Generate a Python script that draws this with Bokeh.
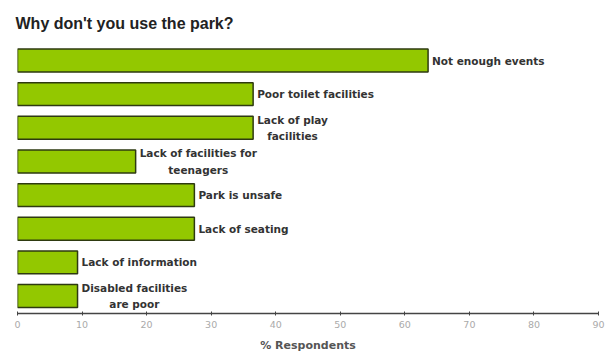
from bokeh.plotting import figure
from bokeh.models import Range1d, ColumnDataSource, FixedTicker
from bokeh.core.properties import value
from bokeh.embed import file_html
from bokeh.resources import INLINE

reasons = [
    "Not enough events",
    "Poor toilet facilities",
    "Lack of play\nfacilities",
    "Lack of facilities for\nteenagers",
    "Park is unsafe",
    "Lack of seating",
    "Lack of information",
    "Disabled facilities\nare poor",
]
percent = [63.6, 36.5, 36.5, 18.3, 27.4, 27.4, 9.3, 9.3]
x_ticks = [0, 10, 20, 30, 40, 50, 60, 70, 80, 90]

pos = list(range(len(reasons)))
src = ColumnDataSource(dict(y=pos, v=percent, label=reasons))

p = figure(width=605, height=356, output_backend="svg", toolbar_location=None,
           x_range=Range1d(0, 90), y_range=Range1d(7.52, -0.595),
           min_border_left=17, min_border_right=7, min_border_top=40, min_border_bottom=43)
p.outline_line_color = None
p.background_fill_color = "white"
p.border_fill_color = "white"
p.yaxis.visible = False
p.xgrid.visible = False
p.ygrid.visible = False

p.title.text = "Why don't you use the park?"
p.title.text_font = "Liberation Sans"
p.title.text_font_size = "16px"
p.title.text_color = "#222222"
p.title.text_font_style = "bold"
p.title.align = "left"
p.title.offset = -2
p.title.standoff = 17

p.hbar(y="y", right="v", left=0, height=0.68, source=src,
       fill_color="#93c800", line_color="#2e3a10", line_width=1.5)

p.text(x="v", y="y", text="label", source=src, x_offset=4,
       anchor="center_left", text_align="center", text_baseline="middle",
       text_font=value("DejaVu Sans"), text_font_style="bold",
       text_font_size="10.5px", text_color="#333333", text_line_height=1.35)

ax = p.xaxis[0]
ax.ticker = FixedTicker(ticks=x_ticks)
ax.minor_tick_line_color = None
ax.axis_line_color = "#444444"
ax.axis_line_width = 1.5
ax.major_tick_line_color = "#444444"
ax.major_tick_in = 2
ax.major_tick_out = 2
ax.major_label_text_font = "DejaVu Sans"
ax.major_label_text_font_size = "9.5px"
ax.major_label_text_color = "#aaaaaa"
ax.major_label_standoff = 5
ax.axis_label = "% Respondents"
ax.axis_label_text_font = "DejaVu Sans"
ax.axis_label_text_font_style = "bold"
ax.axis_label_text_font_size = "11px"
ax.axis_label_text_color = "#555555"
ax.axis_label_standoff = 8

open("out.html", "w").write(file_html(p, INLINE))
